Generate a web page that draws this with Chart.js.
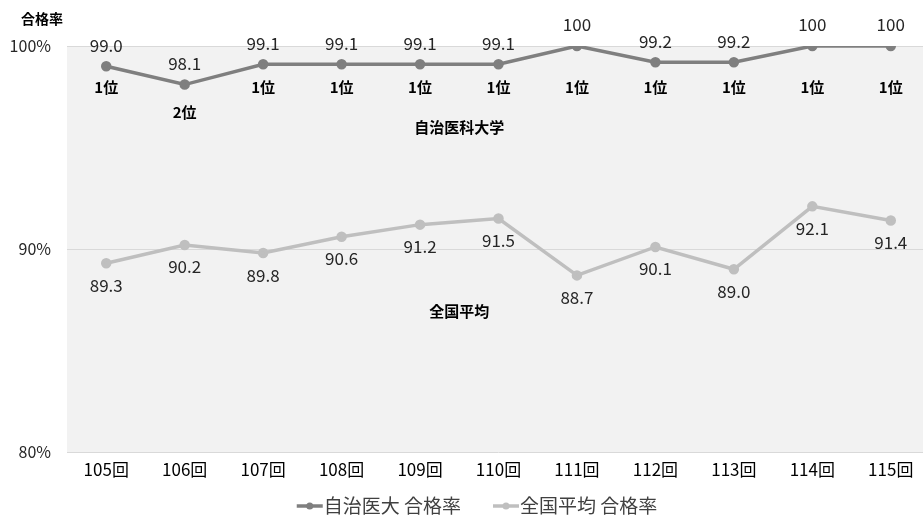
<!DOCTYPE html>
<html><head><meta charset="utf-8">
<script src="https://cdn.jsdelivr.net/npm/chart.js@4.4.1/dist/chart.umd.min.js"></script>
<style>
html,body{margin:0;padding:0;overflow:hidden;background:#fff;width:923px;height:525px}
#wrap{width:937px;height:525px;position:relative}
</style></head>
<body><div id="wrap"><canvas id="c"></canvas></div>
<script>
const categories = ['105回','106回','107回','108回','109回','110回','111回','112回','113回','114回','115回'];
const jichiRates = [99.0, 98.1, 99.1, 99.1, 99.1, 99.1, 100, 99.2, 99.2, 100, 100];
const nationalRates = [89.3, 90.2, 89.8, 90.6, 91.2, 91.5, 88.7, 90.1, 89.0, 92.1, 91.4];
const jichiRanks = [1, 2, 1, 1, 1, 1, 1, 1, 1, 1, 1];
const yTicks = [80, 90, 100];
const seriesNames = ['自治医大 合格率', '全国平均 合格率'];
const seriesTags = ['自治医科大学', '全国平均'];
const axisTitle = '合格率';

const FONT = '"Noto Sans CJK JP", "Noto Sans", sans-serif';
const DARK = '#7f7f7f', LIGHT = '#bfbfbf', TXT = '#262626';

function fmt(v){ return v === 100 ? '100' : v.toFixed(1); }

const decor = {
  id: 'decor',
  beforeDraw(chart){
    const {ctx, chartArea:a} = chart;
    ctx.save();
    ctx.fillStyle = '#f2f2f2';
    ctx.fillRect(a.left, a.top, a.right - a.left, a.bottom - a.top);
    ctx.restore();
  },
  afterDatasetsDraw(chart){
    const {ctx, scales:{x, y}} = chart;
    ctx.save();
    ctx.textAlign = 'center';
    ctx.textBaseline = 'middle';
    // value labels
    ctx.fillStyle = TXT;
    ctx.font = '17px ' + FONT;
    chart.getDatasetMeta(0).data.forEach((p, i) => {
      ctx.fillText(fmt(jichiRates[i]), p.x, p.y - 21);
    });
    chart.getDatasetMeta(1).data.forEach((p, i) => {
      ctx.fillText(fmt(nationalRates[i]), p.x, p.y + 22);
    });
    // rank labels
    ctx.font = 'bold 15px ' + FONT;
    ctx.fillStyle = '#000';
    const rankRow = y.getPixelForValue(97.95);
    jichiRanks.forEach((r, i) => {
      ctx.fillText(r + '位', x.getPixelForValue(i), rankRow + (r - 1) * 25);
    });
    // series tags
    const midX = (x.getPixelForValue(4) + x.getPixelForValue(5)) / 2;
    ctx.fillText(seriesTags[0], midX, y.getPixelForValue(96.0));
    ctx.fillText(seriesTags[1], midX, y.getPixelForValue(86.95));
    // axis title
    ctx.textAlign = 'left';
    ctx.font = 'bold 14px ' + FONT;
    ctx.fillText(axisTitle, 21, 19);
    // legend
    ctx.font = '19px ' + FONT;
    ctx.fillStyle = '#404040';
    const colors = [DARK, LIGHT];
    const lineW = 26, gap = 1, itemGap = 32;
    const widths = seriesNames.map(n => lineW + gap + ctx.measureText(n).width);
    const total = widths.reduce((s, w) => s + w, 0) + itemGap;
    let lx = 477 - total / 2;
    const ly = 506;
    seriesNames.forEach((n, i) => {
      ctx.strokeStyle = colors[i];
      ctx.lineWidth = 3.5;
      ctx.beginPath(); ctx.moveTo(lx, ly); ctx.lineTo(lx + lineW, ly); ctx.stroke();
      ctx.fillStyle = colors[i];
      ctx.beginPath(); ctx.arc(lx + lineW / 2, ly, 3.5, 0, Math.PI * 2); ctx.fill();
      ctx.fillStyle = '#404040';
      ctx.fillText(n, lx + lineW + gap, ly);
      lx += widths[i] + itemGap;
    });
    ctx.restore();
  }
};

new Chart(document.getElementById('c'), {
  type: 'line',
  data: {
    labels: categories,
    datasets: [
      { label: seriesNames[0], data: jichiRates, borderColor: DARK, backgroundColor: DARK,
        borderWidth: 3.5, pointRadius: 3.5, pointHoverRadius: 3.5, tension: 0 },
      { label: seriesNames[1], data: nationalRates, borderColor: LIGHT, backgroundColor: LIGHT,
        borderWidth: 3.5, pointRadius: 3.5, pointHoverRadius: 3.5, tension: 0 }
    ]
  },
  options: {
    responsive: true,
    maintainAspectRatio: false,
    animation: false,
    layout: { padding: { top: 46, bottom: 37, left: 0, right: 0 } },
    plugins: { legend: { display: false }, tooltip: { enabled: false } },
    scales: {
      x: {
        offset: true,
        grid: { display: false, drawTicks: false },
        border: { display: false },
        ticks: { color: '#000', font: { family: FONT, size: 17 }, padding: 7, maxRotation: 0 },
        afterFit(s){ s.height = 36; }
      },
      y: {
        min: 80, max: 100,
        afterBuildTicks(s){ s.ticks = yTicks.map(v => ({ value: v })); },
        grid: { color: '#d9d9d9', lineWidth: 1, drawTicks: false },
        border: { display: false },
        ticks: { color: '#262626', font: { family: FONT, size: 16 }, padding: 16,
                 callback: v => v + '%' },
        afterFit(s){ s.width = 67; }
      }
    }
  },
  plugins: [decor]
});
</script>
</body></html>
